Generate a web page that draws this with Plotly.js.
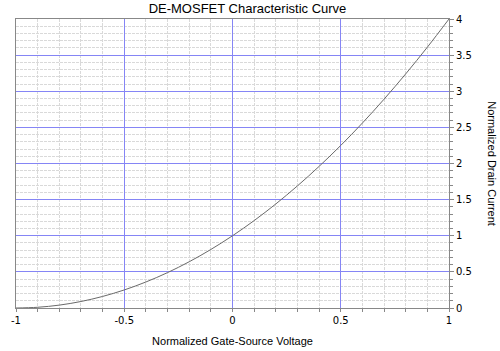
<!DOCTYPE html>
<html>
<head>
<meta charset="utf-8">
<script src="https://cdn.plot.ly/plotly-3.0.1.min.js"></script>
<style>html,body{margin:0;padding:0;background:#fff;}#chart{width:500px;height:351px;}</style>
</head>
<body>
<div id="chart"></div>
<script>
// Normalized gate-source voltage (x) and normalized drain current (y)
const vgs = [-1, -0.9, -0.8, -0.7, -0.6, -0.5, -0.4, -0.3, -0.2, -0.1, 0,
             0.1, 0.2, 0.3, 0.4, 0.5, 0.6, 0.7, 0.8, 0.9, 1];
const idrain = [0, 0.01, 0.04, 0.09, 0.16, 0.25, 0.36, 0.49, 0.64, 0.81, 1,
                1.21, 1.44, 1.69, 1.96, 2.25, 2.56, 2.89, 3.24, 3.61, 4];
const xTicks = [-1, -0.5, 0, 0.5, 1];
const xTickText = ['-1', '-0.5', '0', '0.5', '1'];
const yTicks = [0, 0.5, 1, 1.5, 2, 2.5, 3, 3.5, 4];
const yTickText = ['0', '0.5', '1', '1.5', '2', '2.5', '3', '3.5', '4'];

const tickFont = {family: 'DejaVu Sans, sans-serif', size: 10, color: '#000'};
const majorGrid = '#8585f5';
const minorGrid = '#d9d9d9';

const trace = {
  x: vgs, y: idrain, type: 'scatter', mode: 'lines',
  line: {color: '#6a6a6a', width: 1, shape: 'spline'},
  hoverinfo: 'skip'
};

const layout = {
  width: 500, height: 351,
  margin: {l: 16, r: 51, t: 19, b: 43, pad: 0},
  paper_bgcolor: '#fff', plot_bgcolor: '#fff',
  showlegend: false,
  title: {text: 'DE-MOSFET Characteristic Curve', x: 0.495, xanchor: 'center', y: 0.975, yanchor: 'middle',
          font: {family: 'Liberation Sans, Arial, sans-serif', size: 13, color: '#000'}},
  xaxis: {
    range: [-1, 1], tickmode: 'array', tickvals: xTicks, ticktext: xTickText,
    showgrid: true, gridcolor: majorGrid, gridwidth: 1,
    zeroline: false, showline: true, linecolor: '#888', linewidth: 1, mirror: true,
    ticks: 'outside', ticklen: 3, tickcolor: '#888', tickfont: tickFont,
    minor: {dtick: 0.1, showgrid: true, gridcolor: minorGrid, griddash: '3px,1px', ticks: 'outside', ticklen: 3, tickcolor: '#888'},
    title: {text: 'Normalized Gate-Source Voltage', standoff: 12,
            font: {family: 'Liberation Sans, Arial, sans-serif', size: 11, color: '#000'}}
  },
  yaxis: {
    range: [0, 4], side: 'right', tickmode: 'array', tickvals: yTicks, ticktext: yTickText,
    showgrid: true, gridcolor: majorGrid, gridwidth: 1,
    zeroline: false, showline: true, linecolor: '#888', linewidth: 1, mirror: true,
    ticks: 'outside', ticklen: 4, tickcolor: '#888', tickfont: tickFont,
    minor: {dtick: 0.1, showgrid: true, gridcolor: minorGrid, griddash: '3px,1px', ticks: 'outside', ticklen: 3, tickcolor: '#888'}
  },
  annotations: [{
    text: 'Normalized Drain Current', textangle: 90,
    xref: 'paper', yref: 'paper', x: 1.1, y: 0.5, xanchor: 'center', yanchor: 'middle',
    showarrow: false, font: {family: 'Liberation Sans, Arial, sans-serif', size: 11, color: '#000'}
  }]
};

Plotly.newPlot('chart', [trace], layout, {staticPlot: true, displayModeBar: false});
</script>
</body>
</html>
